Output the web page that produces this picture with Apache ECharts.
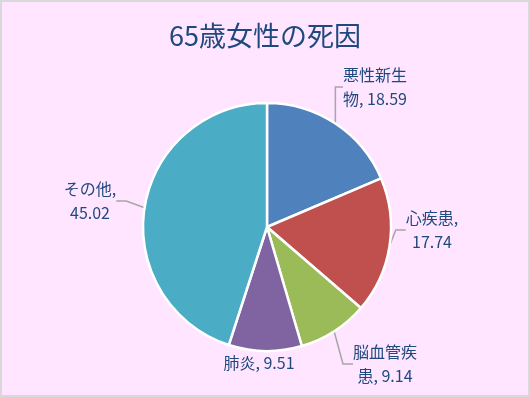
<!DOCTYPE html>
<html>
<head>
<meta charset="utf-8">
<script src="https://cdn.jsdelivr.net/npm/echarts@6/dist/echarts.min.js"></script>
<style>
  html, body { margin: 0; padding: 0; background: #fff; }
  #chart { width: 530px; height: 397px; box-sizing: border-box; border: 2px solid #d9d9d9; background: #ffe5ff; }
</style>
</head>
<body>
<div id="chart"></div>
<script>
var causes = ['悪性新生物', '心疾患', '脳血管疾患', '肺炎', 'その他'];
var rates = [18.59, 17.74, 9.14, 9.51, 45.02];
var sliceColors = ['#4f81bd', '#c0504d', '#9bbb59', '#8064a2', '#4bacc6'];

// where each label sits in the original
var labelSpot = [
  { x: 373, y: 85 },
  { x: 430, y: 228 },
  { x: 383, y: 362 },
  { x: 257, y: 361 },
  { x: 88, y: 199 }
];

function labelText(name, value) {
  if (name.length >= 5) return name.slice(0, 4) + '\n' + name.slice(4) + ', ' + value;
  if (name.length === 3) return name + ',\n' + value;
  return name + ', ' + value;
}

var chart = echarts.init(document.getElementById('chart'));
chart.setOption({
  animation: false,
  title: {
    text: '65歳女性の死因',
    left: 'center',
    top: 15,
    textStyle: { fontFamily: 'Noto Sans CJK JP', fontSize: 27, fontWeight: 'normal', color: '#1f497d' }
  },
  series: [{
    type: 'pie',
    center: [265, 225],
    radius: 124,
    startAngle: 90,
    clockwise: true,
    itemStyle: { borderColor: '#fff', borderWidth: 2.5 },
    data: causes.map(function (c, i) {
      return { name: c, value: rates[i], itemStyle: { color: sliceColors[i] } };
    }),
    label: {
      show: true,
      position: 'outside',
      formatter: function (p) { return labelText(p.name, p.value); },
      fontFamily: 'Noto Sans CJK JP',
      fontSize: 16,
      lineHeight: 24,
      color: '#1f497d',
      align: 'center'
    },
    labelLine: { show: true, length: 10, length2: 10, lineStyle: { color: '#a6a6a6', width: 1.5 } },
    labelLayout: function (p) {
      var s = labelSpot[p.dataIndex];
      return { x: s.x, y: s.y, align: 'center', verticalAlign: 'middle' };
    }
  }]
});
</script>
</body>
</html>
